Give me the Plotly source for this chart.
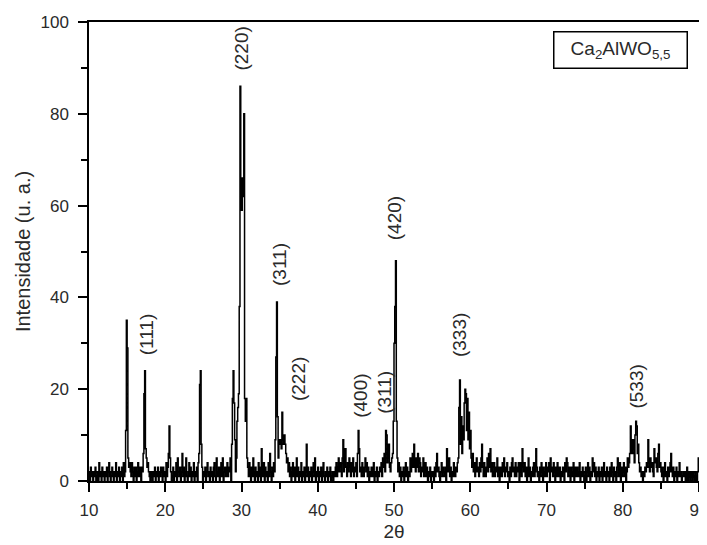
import numpy as np
import plotly.graph_objects as go

# XRD pattern, sampled every 0.1 degree from 10.0 to 90.0 (2-theta)
two_theta_start = 10.0
two_theta_step = 0.1
intensity = [
    2, 0, 3, 1, 2, 0, 2, 1, 3, 0,        # 10
    1, 2, 0, 4, 1, 2, 0, 3, 1, 2,        # 11
    0, 2, 1, 3, 0, 2, 4, 1, 0, 2,        # 12
    3, 1, 0, 2, 1, 4, 0, 2, 1, 3,        # 13
    0, 2, 1, 3, 0, 4, 1, 2, 11, 35,      # 14
    29, 5, 3, 4, 2, 1, 4, 2, 0, 3,       # 15
    1, 3, 0, 2, 4, 1, 3, 2, 0, 3,        # 16
    2, 6, 19, 24, 7, 5, 3, 4, 2, 1,      # 17
    0, 2, 1, 0, 2, 1, 3, 0, 2, 1,        # 18
    3, 0, 2, 1, 3, 2, 0, 3, 1, 2,        # 19
    0, 4, 1, 3, 6, 12, 5, 2, 0, 1,       # 20
    3, 0, 2, 1, 4, 0, 5, 2, 1, 3,        # 21
    0, 2, 6, 1, 3, 0, 2, 5, 1, 0,        # 22
    2, 4, 1, 3, 0, 2, 1, 4, 0, 2,        # 23
    1, 3, 0, 4, 6, 21, 24, 8, 3, 0,      # 24
    2, 1, 3, 0, 2, 4, 1, 2, 0, 3,        # 25
    1, 2, 0, 3, 4, 1, 0, 5, 2, 1,        # 26
    3, 0, 2, 4, 1, 5, 0, 2, 3, 1,        # 27
    2, 4, 1, 3, 2, 5, 0, 8, 18, 24,      # 28
    17, 9, 2, 5, 13, 16, 19, 38, 86, 59, # 29
    59, 66, 62, 80, 18, 13, 18, 5, 3, 1, # 30
    4, 2, 0, 3, 1, 5, 2, 0, 3, 1,        # 31
    2, 0, 4, 1, 3, 0, 7, 2, 1, 4,        # 32
    0, 3, 1, 2, 0, 4, 1, 6, 2, 0,        # 33
    3, 1, 4, 2, 9, 27, 39, 14, 5, 9,     # 34
    8, 9, 7, 15, 9, 8, 10, 8, 6, 4,      # 35
    5, 2, 4, 1, 3, 0, 2, 4, 1, 3,        # 36
    0, 2, 5, 1, 3, 0, 2, 1, 4, 0,        # 37
    2, 1, 3, 0, 2, 8, 1, 3, 0, 2,        # 38
    1, 3, 0, 2, 4, 1, 5, 0, 2, 1,        # 39
    3, 0, 2, 1, 3, 0, 2, 4, 1, 0,        # 40
    2, 1, 3, 0, 2, 1, 3, 0, 1, 2,        # 41
    0, 2, 1, 3, 4, 1, 3, 5, 2, 4,        # 42
    3, 1, 5, 9, 2, 4, 7, 3, 1, 4,        # 43
    2, 5, 3, 1, 4, 2, 5, 1, 3, 2,        # 44
    4, 1, 6, 11, 7, 2, 3, 1, 4, 2,       # 45
    1, 3, 5, 2, 4, 1, 3, 0, 2, 1,        # 46
    3, 2, 1, 4, 0, 2, 1, 3, 0, 2,        # 47
    1, 3, 2, 4, 1, 5, 3, 6, 2, 11,       # 48
    10, 4, 5, 8, 3, 2, 4, 5, 6, 13,      # 49
    30, 38, 48, 13, 5, 2, 4, 1, 3, 0,    # 50
    2, 1, 3, 0, 2, 4, 1, 3, 0, 2,        # 51
    1, 5, 2, 3, 6, 3, 8, 4, 2, 5,        # 52
    3, 6, 2, 5, 4, 1, 3, 2, 5, 1,        # 53
    2, 4, 1, 3, 0, 2, 1, 3, 0, 2,        # 54
    1, 2, 0, 3, 1, 4, 6, 2, 3, 1,        # 55
    0, 2, 4, 1, 3, 2, 1, 3, 0, 7,        # 56
    2, 4, 5, 1, 3, 0, 2, 1, 4, 3,        # 57
    1, 3, 2, 4, 5, 16, 22, 8, 14, 6,     # 58
    12, 9, 17, 20, 19, 11, 18, 9, 15, 7, # 59
    11, 5, 3, 6, 2, 4, 1, 3, 5, 2,       # 60
    3, 1, 4, 2, 5, 8, 3, 1, 4, 2,        # 61
    1, 3, 5, 2, 6, 3, 7, 2, 4, 1,        # 62
    2, 4, 1, 3, 2, 5, 1, 3, 0, 2,        # 63
    3, 1, 4, 2, 5, 1, 3, 2, 4, 1,        # 64
    2, 0, 3, 1, 4, 5, 2, 3, 1, 4,        # 65
    1, 3, 2, 4, 0, 2, 4, 1, 7, 3,        # 66
    2, 4, 1, 3, 0, 2, 5, 1, 3, 0,        # 67
    2, 1, 3, 4, 1, 2, 7, 3, 1, 2,        # 68
    0, 3, 1, 4, 2, 0, 3, 1, 2, 4,        # 69
    1, 3, 2, 4, 0, 5, 2, 3, 1, 4,        # 70
    2, 0, 3, 1, 4, 2, 1, 3, 0, 2,        # 71
    1, 3, 2, 0, 4, 2, 5, 4, 1, 3,        # 72
    2, 0, 3, 1, 2, 4, 0, 3, 1, 2,        # 73
    3, 1, 2, 4, 0, 2, 1, 3, 2, 0,        # 74
    1, 3, 0, 2, 4, 1, 3, 0, 2, 1,        # 75
    5, 2, 4, 1, 3, 0, 2, 1, 3, 0,        # 76
    2, 1, 3, 0, 2, 4, 1, 2, 0, 3,        # 77
    1, 2, 0, 3, 1, 4, 2, 0, 3, 1,        # 78
    2, 0, 3, 5, 1, 2, 4, 0, 3, 1,        # 79
    2, 4, 1, 3, 0, 2, 5, 3, 4, 6,        # 80
    12, 8, 6, 9, 7, 4, 10, 13, 12, 6,    # 81
    8, 4, 2, 3, 1, 2, 0, 2, 1, 3,        # 82
    2, 4, 3, 9, 4, 2, 5, 3, 4, 2,        # 83
    1, 7, 4, 5, 3, 2, 6, 8, 3, 4,        # 84
    2, 1, 3, 0, 2, 4, 1, 2, 0, 3,        # 85
    1, 2, 4, 6, 2, 1, 3, 0, 2, 1,        # 86
    3, 0, 2, 1, 4, 1, 2, 0, 1, 2,        # 87
    1, 2, 0, 1, 3, 0, 2, 1, 0, 2,        # 88
    1, 0, 2, 1, 0, 2, 1, 0, 2, 5,        # 89
    3,                                   # 90
]
two_theta = np.round(two_theta_start + two_theta_step * np.arange(len(intensity)), 2)

# Miller-index labels of the reflections
peak_labels = ["(111)", "(220)", "(311)", "(222)", "(400)", "(311)", "(420)", "(333)", "(533)"]
label_2theta = [17.5, 30.0, 35.0, 37.4, 45.5, 48.8, 50.1, 58.6, 81.75]
label_intensity = [32.0, 94.1, 47.2, 22.2, 18.5, 19.4, 57.2, 31.7, 20.6]

sample_name = "Ca<sub>2</sub>AlWO<sub>5,5</sub>"
x_title = "2θ"
y_title = "Intensidade (u. a.)"

FONT = "Liberation Sans, Arial, sans-serif"
TXT = "#2a2a2a"

fig = go.Figure()
fig.add_trace(go.Scatter(
    x=two_theta, y=intensity, mode="lines",
    line=dict(color="black", width=1.5, shape="hv"),
    showlegend=False, hoverinfo="x+y",
))

for lab, lx, ly in zip(peak_labels, label_2theta, label_intensity):
    fig.add_annotation(
        x=lx, y=ly, xref="x", yref="y", text=lab, textangle=-90,
        showarrow=False, font=dict(family=FONT, size=19, color=TXT),
        xanchor="center", yanchor="middle",
    )

fig.add_annotation(
    x=0.8705, y=0.939, xref="paper", yref="paper", text=sample_name,
    showarrow=False, font=dict(family=FONT, size=19, color=TXT),
    bordercolor="black", borderwidth=1.5, borderpad=2,
    width=128, height=31, bgcolor="white",
    xanchor="center", yanchor="middle",
)

# the page body adds an 8 px offset, so the figure is sized to the remaining window
fig.update_layout(
    width=699, height=537,
    margin=dict(l=81, r=8, t=14, b=64, autoexpand=False),
    paper_bgcolor="white", plot_bgcolor="white",
    font=dict(family=FONT, size=17, color=TXT),
)
fig.update_xaxes(
    range=[10, 90], tick0=10, dtick=10, ticks="outside", ticklen=9, tickwidth=1.5,
    tickcolor="black", showline=True, linecolor="black", linewidth=1.5, mirror=True,
    showgrid=False, zeroline=False, ticklabelstandoff=4, automargin=False,
    ticklabeloverflow="allow",
    minor=dict(dtick=5, tick0=10, ticks="outside", ticklen=6, tickwidth=1.5, tickcolor="black", showgrid=False),
    title=dict(text=x_title, font=dict(family=FONT, size=19, color=TXT), standoff=6),
    tickfont=dict(family=FONT, size=17, color=TXT),
)
fig.update_yaxes(
    range=[0, 100], tick0=0, dtick=20, ticks="outside", ticklen=9, tickwidth=1.5,
    tickcolor="black", showline=True, linecolor="black", linewidth=1.5, mirror=True,
    showgrid=False, zeroline=False, ticklabelstandoff=6, automargin=False,
    minor=dict(dtick=10, tick0=0, ticks="outside", ticklen=6, tickwidth=1.5, tickcolor="black", showgrid=False),
    title=dict(text=y_title, font=dict(family=FONT, size=20, color=TXT), standoff=4),
    tickfont=dict(family=FONT, size=17, color=TXT),
)

fig.write_html("out.html")
